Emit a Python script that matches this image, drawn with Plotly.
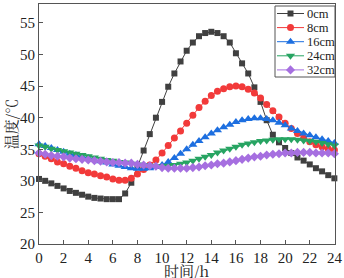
import plotly.graph_objects as go

hours = [i * 0.5 for i in range(49)]

cm0 = [30.3, 30.0, 29.6, 29.2, 28.8, 28.4, 28.1, 27.8, 27.5, 27.3, 27.2, 27.1, 27.1, 27.1,
       28.0, 29.7, 32.2, 34.8, 37.4, 40.0, 42.5, 44.9, 47.0, 48.9, 50.6, 51.9, 52.9, 53.4,
       53.6, 53.4, 52.9, 51.9, 50.2, 48.6, 47.0, 44.8, 42.5, 39.6, 37.3, 36.1, 35.2, 34.4,
       33.7, 33.2, 32.6, 32.0, 31.5, 30.9, 30.4]
cm8 = [34.3, 33.9, 33.5, 33.0, 32.7, 32.3, 32.0, 31.6, 31.3, 31.1, 30.8, 30.6, 30.3, 30.1,
       30.1, 30.4, 31.1, 31.8, 32.5, 33.3, 34.4, 35.6, 36.8, 37.9, 39.1, 40.4, 41.6, 42.6,
       43.5, 44.2, 44.6, 44.9, 45.0, 44.9, 44.5, 43.9, 43.1, 42.1, 41.1, 40.1, 39.1, 38.3,
       37.5, 36.8, 36.2, 35.7, 35.4, 35.1, 34.9]
cm16 = [35.8, 35.5, 35.2, 34.9, 34.6, 34.3, 34.1, 33.8, 33.6, 33.3, 33.1, 32.9, 32.6, 32.4,
        32.2, 32.0, 31.9, 31.9, 32.0, 32.2, 32.5, 33.0, 33.6, 34.3, 35.0, 35.7, 36.3, 36.9,
        37.5, 38.0, 38.5, 38.9, 39.3, 39.6, 39.8, 39.9, 39.9, 39.8, 39.6, 39.2, 38.8, 38.3,
        37.9, 37.5, 37.2, 36.9, 36.6, 36.3, 36.0]
cm24 = [35.6, 35.4, 35.1, 34.9, 34.7, 34.5, 34.3, 34.1, 33.9, 33.7, 33.5, 33.3, 33.2, 33.0,
        32.9, 32.7, 32.6, 32.5, 32.4, 32.3, 32.3, 32.4, 32.5, 32.7, 32.9, 33.2, 33.5, 33.8,
        34.1, 34.5, 34.8, 35.1, 35.4, 35.7, 35.9, 36.1, 36.3, 36.4, 36.5, 36.6, 36.6, 36.6,
        36.5, 36.4, 36.3, 36.2, 36.0, 35.8, 35.6]
cm32 = [34.4, 34.2, 34.0, 33.9, 33.8, 33.6, 33.5, 33.4, 33.3, 33.2, 33.1, 33.0, 32.9, 32.9,
        32.8, 32.8, 32.6, 32.5, 32.4, 32.3, 32.1, 32.0, 32.0, 32.0, 32.0, 32.1, 32.2, 32.4,
        32.5, 32.7, 32.8, 33.0, 33.2, 33.4, 33.6, 33.8, 33.9, 34.1, 34.2, 34.3, 34.4, 34.4,
        34.5, 34.5, 34.5, 34.4, 34.4, 34.4, 34.3]

names = ["0cm", "8cm", "16cm", "24cm", "32cm"]
series = [cm0, cm8, cm16, cm24, cm32]
colors = ["#404040", "#f23a3a", "#1d6fe0", "#27a462", "#a66fe0"]
symbols = ["square", "circle", "triangle-up", "triangle-down", "diamond"]
sizes = [6, 7, 8, 8, 7]

x_ticks = list(range(0, 25, 2))
y_ticks = list(range(20, 56, 5))

serif = "Liberation Serif"
cjk = "Noto Serif CJK SC, Noto Sans CJK SC"

# plot-area geometry (pixels)
L, R, T, B = 39, 335, 4, 244
W_FIG, H_FIG = 344, 278

fig = go.Figure()
for name, ys, c, s, sz in zip(names, series, colors, symbols, sizes):
    fig.add_trace(go.Scatter(
        x=hours, y=ys, name=name, mode="lines+markers",
        line=dict(color=c, width=1),
        marker=dict(symbol=s, size=sz, color=c, line=dict(width=0)),
        cliponaxis=False, showlegend=False,
    ))

# ---- custom compact legend on an overlay pixel-coordinate axis ----
box_x0, box_x1, box_y0, box_y1 = 275, 335, 6, 77
row0, row_gap = 13.5, 14.1
line_x0, line_x1, text_x = 277, 304, 305
fig.add_trace(go.Scatter(
    x=[box_x0, box_x1, box_x1, box_x0, box_x0],
    y=[box_y0, box_y0, box_y1, box_y1, box_y0],
    mode="lines", fill="toself", fillcolor="white",
    line=dict(color="#555", width=1), xaxis="x2", yaxis="y2",
    showlegend=False, hoverinfo="skip", cliponaxis=False,
))
for i, (name, c, s, sz) in enumerate(zip(names, colors, symbols, sizes)):
    ry = row0 + i * row_gap
    fig.add_trace(go.Scatter(
        x=[line_x0, line_x1], y=[ry, ry], mode="lines",
        line=dict(color=c, width=1), xaxis="x2", yaxis="y2",
        showlegend=False, hoverinfo="skip", cliponaxis=False,
    ))
    fig.add_trace(go.Scatter(
        x=[(line_x0 + line_x1) / 2], y=[ry], mode="markers",
        marker=dict(symbol=s, size=sz, color=c, line=dict(width=0)),
        xaxis="x2", yaxis="y2",
        showlegend=False, hoverinfo="skip", cliponaxis=False,
    ))
    fig.add_annotation(
        x=text_x, y=ry, xref="x2", yref="y2", text=name, showarrow=False,
        xanchor="left", yanchor="middle",
        font=dict(family=serif, size=12.5, color="#222"),
    )

# x-axis title placed just below the tick labels (paper coordinates)
fig.add_annotation(
    x=(186 - L) / (R - L), y=(B - 270) / (B - T), xref="paper", yref="paper",
    text="时间/h", showarrow=False, xanchor="center", yanchor="middle",
    font=dict(family=cjk, size=15, color="#222"),
)

axis_common = dict(
    showline=True, linecolor="#555", linewidth=1.2, mirror=True,
    ticks="inside", ticklen=4, tickcolor="#555", tickwidth=1,
    showgrid=False, zeroline=False, automargin=False,
    tickfont=dict(family=serif, size=15, color="#222"),
)

fig.update_xaxes(range=[0, 24.05], tickvals=x_ticks, **axis_common)
fig.update_yaxes(range=[20, 58], tickvals=y_ticks,
                 title=dict(text="温度/℃", font=dict(family=cjk, size=15, color="#222"), standoff=2),
                 **axis_common)

fig.update_layout(
    xaxis2=dict(overlaying="x", range=[L, R], visible=False, anchor="y2"),
    yaxis2=dict(overlaying="y", range=[B, T], visible=False, anchor="x2"),
    width=W_FIG, height=H_FIG,
    margin=dict(l=L, r=W_FIG - R, t=T, b=H_FIG - B),
    plot_bgcolor="white", paper_bgcolor="white",
    showlegend=False,
)

fig.write_html(
    "out.html",
    config={"displayModeBar": False},
    post_script="document.body.style.margin='0';document.body.style.overflow='hidden';",
)
